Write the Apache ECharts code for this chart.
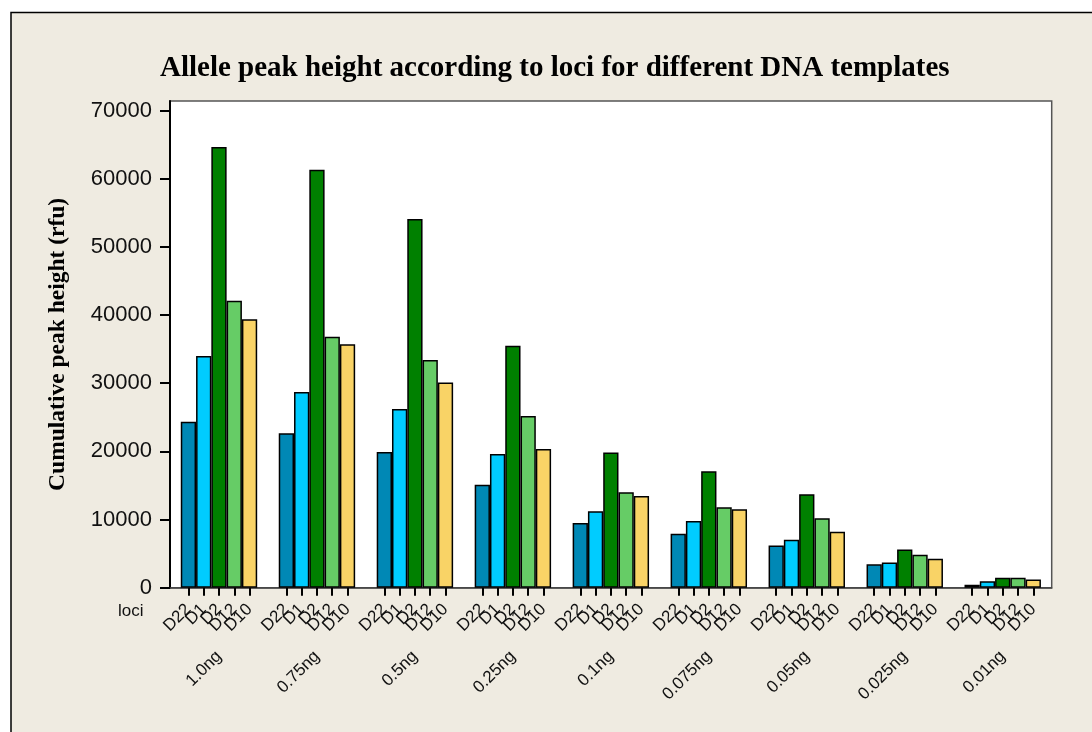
<!DOCTYPE html>
<html>
<head>
<meta charset="utf-8">
<script src="https://cdn.jsdelivr.net/npm/echarts@6/dist/echarts.min.js"></script>
<style>
html,body{margin:0;padding:0;background:#fff;}
#chart{width:1092px;height:732px;}
</style>
</head>
<body>
<div id="chart"></div>
<script>
// ---- data ----
var templates = ['1.0ng', '0.75ng', '0.5ng', '0.25ng', '0.1ng', '0.075ng', '0.05ng', '0.025ng', '0.01ng'];
var loci = ['D22', 'D1', 'D2', 'D12', 'D10'];
var D22 = [24350, 22650, 19900, 15100, 9500, 7900, 6200, 3430, 450];
var D1  = [34000, 28700, 26200, 19600, 11200, 9800, 7050, 3700, 950];
var D2  = [64650, 61300, 54100, 35500, 19850, 17100, 13700, 5600, 1450];
var D12 = [42100, 36800, 33400, 25200, 14000, 11800, 10200, 4850, 1450];
var D10 = [39400, 35700, 30100, 20350, 13450, 11500, 8200, 4250, 1200];
var yTicks = [0, 10000, 20000, 30000, 40000, 50000, 60000, 70000];

var seriesValues = [D22, D1, D2, D12, D10];
var colors = ['#0088B5', '#00CCFF', '#008000', '#66CC66', '#F9D366'];

// bar layout (fraction of one category band)
var barFrac = 0.156;
var tickVals = [];
templates.forEach(function (t, i) {
  loci.forEach(function (l, j) {
    tickVals.push(i + 0.5 + (j - 2) * barFrac);
  });
});
// label positions: same as ticks, plus empty placeholders at both ends of the axis
var labelVals = [0].concat(tickVals).concat([templates.length]);
function lociName(v) {
  if (v <= 0 || v >= templates.length) return '';
  var frac = v - Math.floor(v);
  var j = Math.round((frac - 0.5) / barFrac) + 2;
  return loci[j] || '';
}

var chart = echarts.init(document.getElementById('chart'), null, {renderer: 'canvas'});
var option = {
  backgroundColor: '#ffffff',
  animation: false,
  title: {
    text: 'Allele peak height according to loci for different DNA templates',
    left: 160,
    top: 54,
    padding: 0,
    textStyle: {fontFamily: 'Liberation Serif', fontWeight: 'bold', fontSize: 29, color: '#000'}
  },
  graphic: [
    {type: 'rect', z: -100, shape: {x: 11, y: 12.5, width: 1200, height: 900},
     style: {fill: '#EFEBE1', stroke: '#000', lineWidth: 1.5}},
    {type: 'text', left: 118, top: 603,
     style: {text: 'loci', fontFamily: 'Liberation Sans', fontSize: 17, fill: '#111'}}
  ],
  grid: {left: 170, right: 40.3, top: 101, bottom: 144.3, show: true,
         backgroundColor: '#ffffff', borderColor: '#555', borderWidth: 1.5},
  xAxis: [
    {type: 'category', data: templates, position: 'bottom',
     axisLine: {show: true, lineStyle: {color: '#444', width: 1.5}},
     axisTick: {show: false},
     axisLabel: {rotate: 45, margin: 66, interval: 0, fontFamily: 'Liberation Sans', fontSize: 17, color: '#111'}},
    {type: 'value', min: 0, max: templates.length, position: 'bottom',
     axisLine: {show: false}, splitLine: {show: false},
     axisTick: {show: true, customValues: tickVals, length: 8, lineStyle: {color: '#000', width: 2}},
     axisLabel: {show: true, customValues: labelVals, rotate: 45, margin: 19,
                 showMinLabel: true, showMaxLabel: true, hideOverlap: false,
                 fontFamily: 'Liberation Sans', fontSize: 17, color: '#111',
                 formatter: function (v) { return lociName(v); }}}
  ],
  yAxis: {
    type: 'value', min: 0, max: 71400,
    name: 'Cumulative peak height (rfu)', nameLocation: 'middle', nameGap: 100,
    nameTextStyle: {fontFamily: 'Liberation Serif', fontWeight: 'bold', fontSize: 23.5, color: '#000'},
    axisLine: {show: true, lineStyle: {color: '#000', width: 2}},
    axisTick: {show: true, length: 10, customValues: yTicks, lineStyle: {color: '#000', width: 2}},
    axisLabel: {customValues: yTicks, margin: 18, fontFamily: 'Liberation Sans', fontSize: 22, color: '#111',
                formatter: function (v) { return String(v); }},
    splitLine: {show: false}
  },
  series: seriesValues.map(function (vals, k) {
    return {
      name: loci[k], type: 'bar', xAxisIndex: 0, yAxisIndex: 0,
      data: vals, barWidth: (barFrac * 100) + '%', barGap: '0%',
      itemStyle: {color: colors[k], borderColor: '#000', borderWidth: 1.5}
    };
  })
};
chart.setOption(option);
</script>
</body>
</html>
